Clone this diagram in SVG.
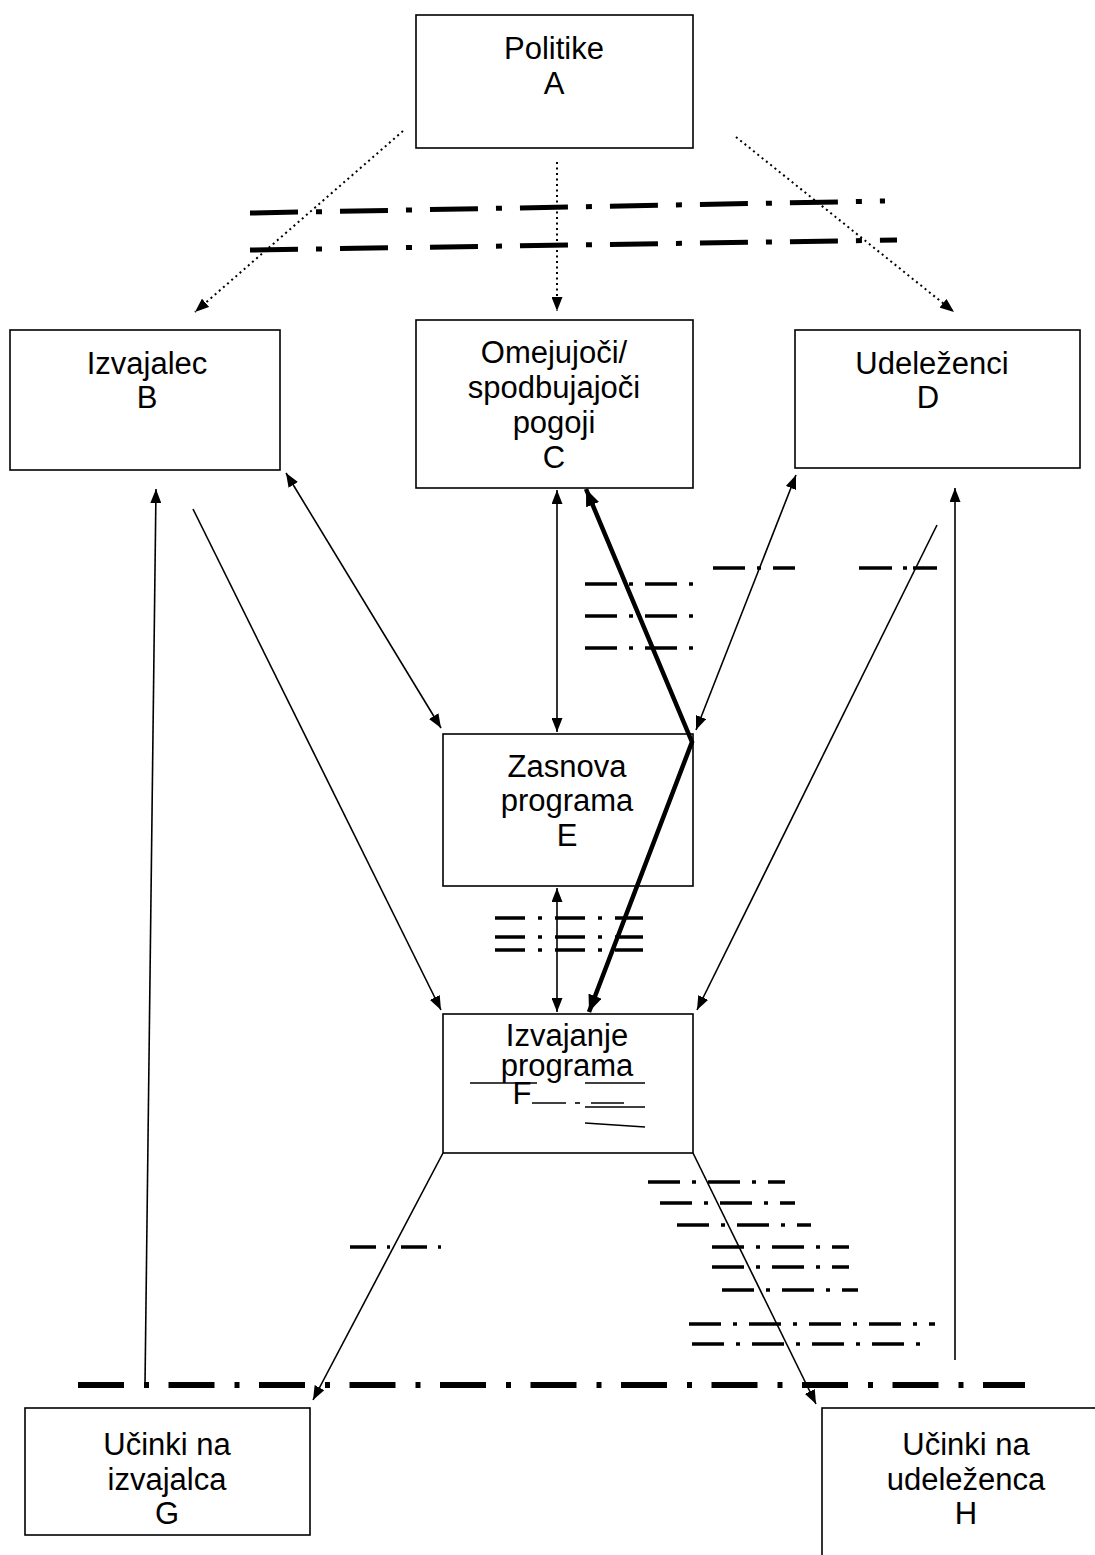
<svg xmlns="http://www.w3.org/2000/svg" width="1095" height="1555" viewBox="0 0 1095 1555">
<defs>
<marker id="ah" viewBox="0 0 14 11" refX="14" refY="5.5" markerWidth="14" markerHeight="11" markerUnits="userSpaceOnUse" orient="auto-start-reverse"><path d="M0,0 L14,5.5 L0,11 z" fill="#000"/></marker>
<marker id="ahb" viewBox="0 0 17 14" refX="17" refY="7" markerWidth="17" markerHeight="14" markerUnits="userSpaceOnUse" orient="auto-start-reverse"><path d="M0,0 L17,7 L0,14 z" fill="#000"/></marker>
<style>
.box{fill:#fff;stroke:#000;stroke-width:1.6}
.t{font-family:"Liberation Sans",Arial,sans-serif;font-size:31px;fill:#000;text-anchor:middle}
.arr{fill:none;stroke:#000;stroke-width:1.6}
.dot{fill:none;stroke:#000;stroke-width:2;stroke-dasharray:2 3.5}
.bold{fill:none;stroke:#000;stroke-width:4.5}
.dd{fill:none;stroke:#000;stroke-width:5;stroke-dasharray:48 18 6 18}
.ddb{fill:none;stroke:#000;stroke-width:6;stroke-dasharray:46 20 5 19.5}
.dm{fill:none;stroke:#000;stroke-width:3.5;stroke-dasharray:32 12 4 12}
.de{fill:none;stroke:#000;stroke-width:3.5;stroke-dasharray:30 13 4 13}
.ln{fill:none;stroke:#000;stroke-width:1.6}
</style>
</defs>

<g id="A"><rect class="box" x="416" y="15" width="277" height="133"/><text class="t" x="554" y="59">Politike</text><text class="t" x="554" y="94">A</text></g>
<g id="B"><rect class="box" x="10" y="330" width="270" height="140"/><text class="t" x="147" y="374">Izvajalec</text><text class="t" x="147" y="408">B</text></g>
<g id="C"><rect class="box" x="416" y="320" width="277" height="168"/><text class="t" x="554" y="363">Omejujoči/</text><text class="t" x="554" y="398">spodbujajoči</text><text class="t" x="554" y="433">pogoji</text><text class="t" x="554" y="468">C</text></g>
<g id="D"><rect class="box" x="795" y="330" width="285" height="138"/><text class="t" x="932" y="374">Udeleženci</text><text class="t" x="928" y="408">D</text></g>
<g id="E"><rect class="box" x="443" y="734" width="250" height="152"/><text class="t" x="567" y="777">Zasnova</text><text class="t" x="567" y="811">programa</text><text class="t" x="567" y="846">E</text></g>
<g id="F"><rect class="box" x="443" y="1014" width="250" height="139"/><text class="t" x="567" y="1046">Izvajanje</text><text class="t" x="567" y="1076">programa</text><text class="t" x="522" y="1104">F</text>
<line class="ln" x1="470" y1="1083" x2="537" y2="1083"/>
<line class="ln" x1="532" y1="1103" x2="566" y2="1103"/>
<line class="ln" x1="575" y1="1103" x2="580" y2="1103"/>
<line class="ln" x1="591" y1="1103" x2="624" y2="1103"/>
<line class="ln" x1="585" y1="1083" x2="645" y2="1083"/>
<line class="ln" x1="585" y1="1107" x2="645" y2="1107"/>
<line class="ln" x1="585" y1="1123" x2="645" y2="1127"/>
</g>
<g id="G"><rect class="box" x="25" y="1408" width="285" height="127"/><text class="t" x="167" y="1455">Učinki na</text><text class="t" x="167" y="1490">izvajalca</text><text class="t" x="167" y="1524">G</text></g>
<g id="H"><rect class="box" x="822" y="1408" width="300" height="200"/><text class="t" x="966" y="1455">Učinki na</text><text class="t" x="966" y="1490">udeleženca</text><text class="t" x="966" y="1524">H</text></g>

<g id="connectors">
<line class="dot" x1="403" y1="131" x2="195" y2="312" marker-end="url(#ah)"/>
<line class="dot" x1="557" y1="162" x2="557" y2="311" marker-end="url(#ah)"/>
<line class="dot" x1="736" y1="137" x2="954" y2="312" marker-end="url(#ah)"/>
<line class="arr" x1="286" y1="473" x2="441" y2="728" marker-start="url(#ah)" marker-end="url(#ah)"/>
<line class="arr" x1="557" y1="490" x2="557" y2="732" marker-start="url(#ah)" marker-end="url(#ah)"/>
<line class="arr" x1="796" y1="475" x2="696" y2="730" marker-start="url(#ah)" marker-end="url(#ah)"/>
<line class="arr" x1="193" y1="509" x2="441" y2="1010" marker-end="url(#ah)"/>
<line class="arr" x1="937" y1="525" x2="697" y2="1010" marker-end="url(#ah)"/>
<line class="arr" x1="557" y1="888" x2="557" y2="1012" marker-start="url(#ah)" marker-end="url(#ah)"/>
<line class="arr" x1="145" y1="1385" x2="156" y2="489" marker-end="url(#ah)"/>
<line class="arr" x1="955" y1="1360" x2="955" y2="488" marker-end="url(#ah)"/>
<line class="arr" x1="443" y1="1153" x2="313" y2="1400" marker-end="url(#ah)"/>
<line class="arr" x1="693" y1="1153" x2="816" y2="1404" marker-end="url(#ah)"/>
<polyline class="bold" points="586,489 692,742 589,1012" marker-start="url(#ahb)" marker-end="url(#ahb)"/>
</g>

<g id="dashlines">
<line class="dd" x1="250" y1="213" x2="885" y2="201"/>
<line class="dd" x1="250" y1="250" x2="897" y2="240"/>
<line class="ddb" x1="78" y1="1385" x2="1025" y2="1385"/>
<line class="dm" x1="585" y1="584" x2="693" y2="584"/>
<line class="dm" x1="585" y1="616" x2="693" y2="616"/>
<line class="dm" x1="585" y1="648" x2="693" y2="648"/>
<line class="dm" x1="713" y1="568" x2="795" y2="568"/>
<line class="dm" x1="859" y1="568" x2="937" y2="568" style="stroke-dasharray:33 11 4 6 24"/>
<line class="de" x1="495" y1="918" x2="643" y2="918"/>
<line class="de" x1="495" y1="937" x2="643" y2="937"/>
<line class="de" x1="495" y1="950" x2="643" y2="950"/>
<line class="dm" x1="648" y1="1182" x2="785" y2="1182"/>
<line class="dm" x1="660" y1="1203" x2="795" y2="1203"/>
<line class="dm" x1="677" y1="1225" x2="811" y2="1225"/>
<line class="dm" x1="712" y1="1247" x2="849" y2="1247"/>
<line class="dm" x1="712" y1="1267" x2="849" y2="1267"/>
<line class="dm" x1="722" y1="1290" x2="858" y2="1290"/>
<line class="dm" x1="689" y1="1324" x2="935" y2="1324"/>
<line class="dm" x1="692" y1="1344" x2="932" y2="1344"/>
<line class="dm" x1="350" y1="1247" x2="441" y2="1247" style="stroke-dasharray:26 11 3 11"/>
</g>
</svg>
